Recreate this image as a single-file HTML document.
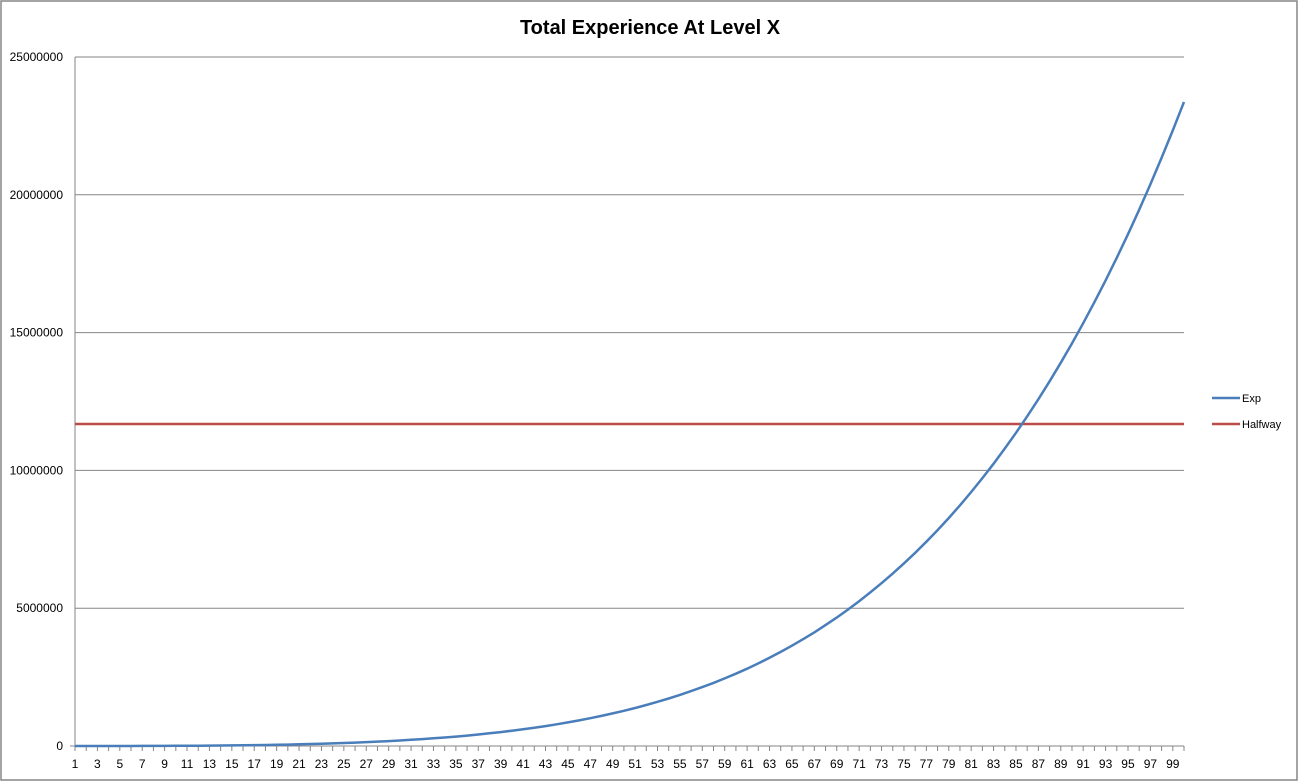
<!DOCTYPE html>
<html><head><style>
body{margin:0;background:#fff}
svg{display:block;font-family:"Liberation Sans",sans-serif}
</style></head><body>
<svg id="s" width="1301" height="783" xmlns="http://www.w3.org/2000/svg">
<rect x="1" y="1" width="1296" height="779" fill="#fff" stroke="#868686" stroke-width="1.5"/>
<text x="650" y="34" text-anchor="middle" font-size="20" font-weight="bold">Total Experience At Level X</text>
<g id="grid" stroke="#868686" stroke-width="1"></g>
<g id="ylab" font-size="12" text-anchor="end"></g>
<g id="xlab" font-size="12" text-anchor="middle"></g>
<line x1="75" y1="424" x2="1184" y2="424" stroke="#be4b48" stroke-width="2.5"/>
<polyline id="exp" fill="none" stroke="#4a7ebb" stroke-width="2.5"/>
<line x1="1212" y1="398" x2="1240" y2="398" stroke="#4a7ebb" stroke-width="2.5"/>
<text x="1242" y="402" font-size="11">Exp</text>
<line x1="1212" y1="424" x2="1240" y2="424" stroke="#be4b48" stroke-width="2.5"/>
<text x="1242" y="428" font-size="11">Halfway</text>
</svg>
<script>
var ns="http://www.w3.org/2000/svg",g=document.getElementById('grid'),yl=document.getElementById('ylab'),xl=document.getElementById('xlab');
function el(p,t,a,txt){var e=document.createElementNS(ns,t);for(var k in a)e.setAttribute(k,a[k]);if(txt!=null)e.textContent=txt;p.appendChild(e);}
var y0=746,ys=137.8;
for(var i=0;i<=5;i++){var y=y0-i*ys;el(g,'line',{x1:i?75:70,y1:y,x2:1184,y2:y});el(yl,'text',{x:63,y:y+4},String(i*5000000));}
el(g,'line',{x1:75,y1:57,x2:75,y2:746});
var dx=(1184-75)/99;
for(var i=0;i<100;i++){var x=75+i*dx;el(g,'line',{x1:x,y1:746,x2:x,y2:751});if(i%2==0)el(xl,'text',{x:x,y:768},String(i+1));}
var pts=[];for(var L=1;L<=100;L++){var t=L/100,v=23370000*(0.25*t*t*t+0.75*Math.pow(t,5));pts.push((75+(L-1)*dx).toFixed(1)+','+(y0-v/5000000*ys).toFixed(1));}
document.getElementById('exp').setAttribute('points',pts.join(' '));
</script>
</body></html>
